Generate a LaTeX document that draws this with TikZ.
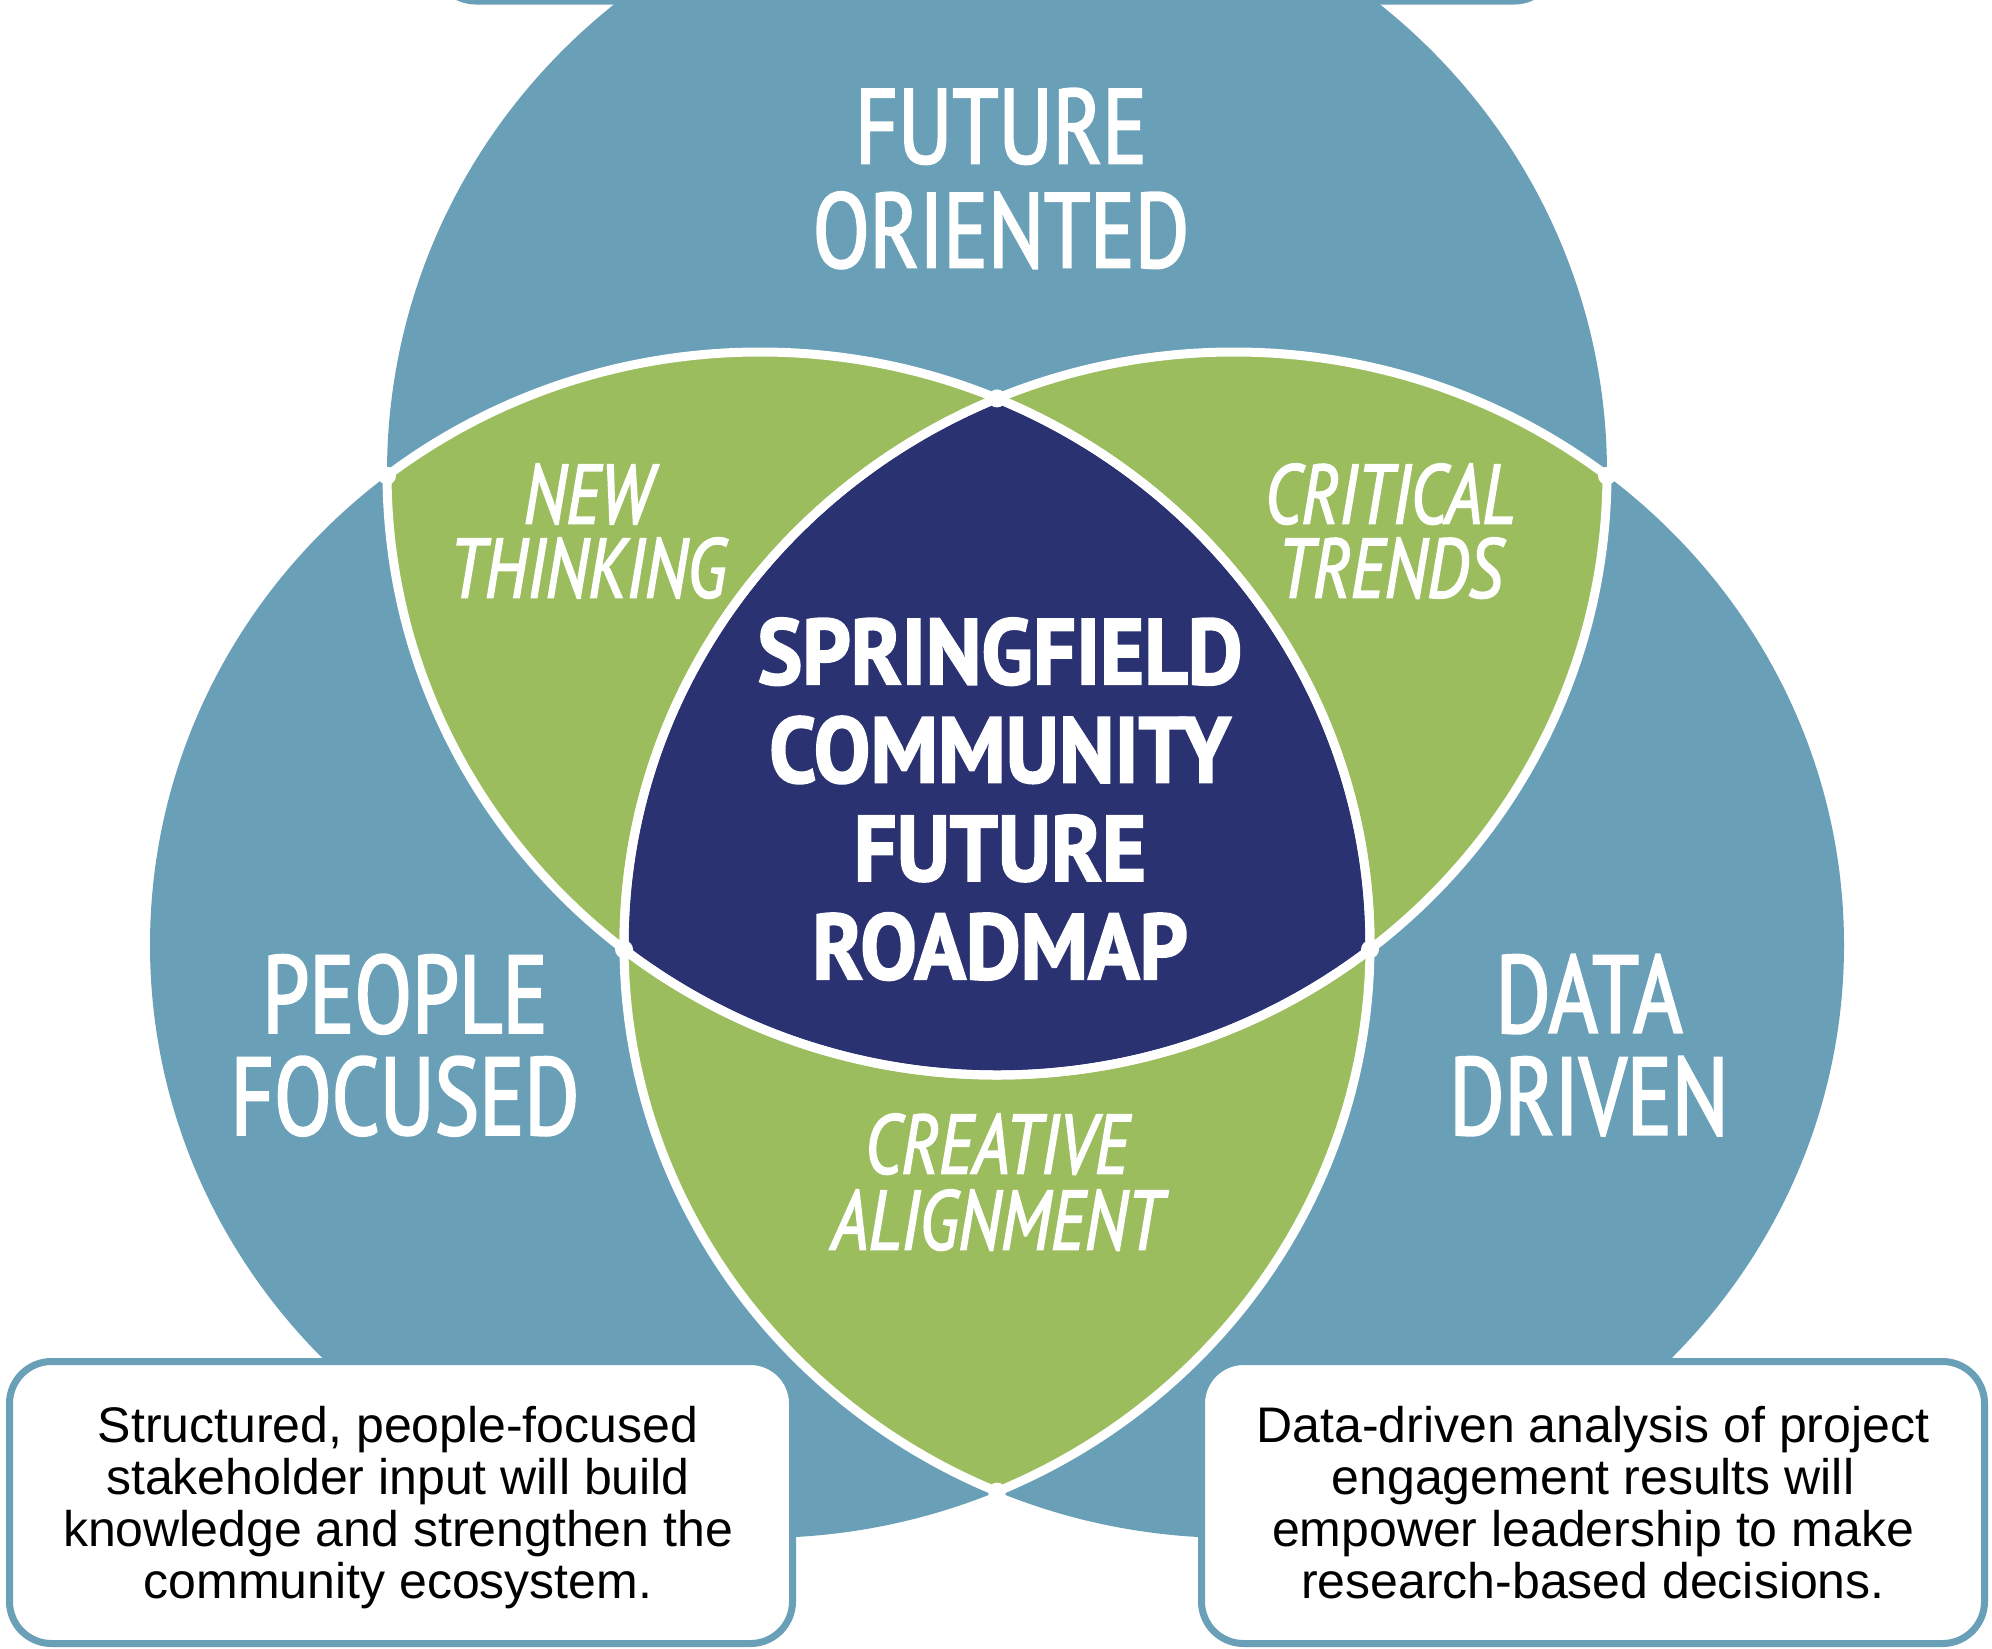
\documentclass[tikz,border=0pt]{standalone}
\usepackage{fontspec}
\usetikzlibrary{intersections}
\setmainfont{Liberation Sans}
\newfontfamily\hfont[FakeStretch=0.785,FakeBold=2]{PT Sans}
\newfontfamily\sfont[FakeStretch=0.765,FakeBold=2]{PT Sans}
\newfontfamily\cfont[FakeStretch=0.91,FakeBold=2]{PT Sans}
\newfontfamily\lfont[FakeStretch=0.79,FakeBold=2]{PT Sans}
\setlength{\lineskiplimit}{-200pt}
\definecolor{vblue}{RGB}{105,160,183}
\definecolor{vgreen}{RGB}{155,189,94}
\definecolor{vnavy}{RGB}{42,50,114}
\tikzset{
  wline/.style={draw=white, line width=9pt},
  bighead/.style={text=white, inner sep=0pt, align=center, font=\hfont\fontsize{106}{104}\selectfont},
  sidehead/.style={text=white, inner sep=0pt, align=center, font=\sfont\fontsize{110}{102}\selectfont},
  lenshead/.style={text=white, inner sep=0pt, align=center, font=\lfont\itshape\fontsize{84}{74}\selectfont},
  lenshead2/.style={lenshead, font=\lfont\itshape\fontsize{84}{76}\selectfont},
  corehead/.style={text=white, inner sep=0pt, align=center, font=\cfont\bfseries\fontsize{93}{98.3}\selectfont},
  infobox/.style={draw=vblue, fill=white, line width=7pt, rounded corners=42pt, inner sep=0pt,
    minimum width=783pt, minimum height=282pt},
  infotext/.style={inner sep=0pt, align=center, text=black, font=\fontsize{50}{52}\selectfont},
}
\begin{document}
\lineskiplimit=-200pt
\begin{tikzpicture}[x=1pt,y=-1pt]
\useasboundingbox (0,0) rectangle (1992,1649);
% circles
\fill[vblue, name path=ct] (997,473) ellipse [x radius=610pt, y radius=602pt];
\fill[vblue, name path=cl] (760,945) ellipse [x radius=610pt, y radius=593pt];
\fill[vblue, name path=cr] (1234,945) ellipse [x radius=610pt, y radius=593pt];
% pairwise lenses
\begin{scope}
  \clip (997,473) ellipse [x radius=610pt, y radius=602pt];
  \fill[vgreen] (760,945) ellipse [x radius=610pt, y radius=593pt];
  \fill[vgreen] (1234,945) ellipse [x radius=610pt, y radius=593pt];
\end{scope}
\begin{scope}
  \clip (760,945) ellipse [x radius=610pt, y radius=593pt];
  \fill[vgreen] (1234,945) ellipse [x radius=610pt, y radius=593pt];
\end{scope}
% centre
\begin{scope}
  \clip (997,473) ellipse [x radius=610pt, y radius=602pt];
  \clip (760,945) ellipse [x radius=610pt, y radius=593pt];
  \fill[vnavy] (1234,945) ellipse [x radius=610pt, y radius=593pt];
\end{scope}
% white separating lines
\begin{scope}
  \clip (760,945) ellipse [x radius=610pt, y radius=593pt];
  \path[wline] (997,473) ellipse [x radius=610pt, y radius=602pt];
  \path[wline] (1234,945) ellipse [x radius=610pt, y radius=593pt];
\end{scope}
\begin{scope}
  \clip (1234,945) ellipse [x radius=610pt, y radius=593pt];
  \path[wline] (997,473) ellipse [x radius=610pt, y radius=602pt];
  \path[wline] (760,945) ellipse [x radius=610pt, y radius=593pt];
\end{scope}
\begin{scope}
  \clip (997,473) ellipse [x radius=610pt, y radius=602pt];
  \path[wline] (760,945) ellipse [x radius=610pt, y radius=593pt];
  \path[wline] (1234,945) ellipse [x radius=610pt, y radius=593pt];
\end{scope}
% rounded junctions
\fill[white, name intersections={of=ct and cl, name=jtl}] (jtl-1) circle[radius=9pt] (jtl-2) circle[radius=9pt];
\fill[white, name intersections={of=ct and cr, name=jtr}] (jtr-1) circle[radius=9pt] (jtr-2) circle[radius=9pt];
\fill[white, name intersections={of=cl and cr, name=jlr}] (jlr-1) circle[radius=9pt] (jlr-2) circle[radius=9pt];
% boxes
\node[infobox, minimum width=1119pt, minimum height=400pt, rounded corners=40pt] (topbox) at (995,-199) {};
\node[infobox] (leftbox) at (401,1502.5) {};
\node[infobox] (rightbox) at (1593,1502.5) {};
\node[infotext] (lefttext) at (398,1509.6) {\strut Structured, people-focused\\stakeholder input will build\\knowledge and strengthen the\\community ecosystem.\strut};
\node[infotext] (righttext) at (1593,1509.6) {\strut Data-driven analysis of project\\engagement results will\\empower leadership to make\\research-based decisions.\strut};
% headings
\node[bighead] (fo) at (1001,193.5) {\strut FUTURE\\ORIENTED\strut};
\node[sidehead] (pf) at (405,1059.8) {\strut PEOPLE\\FOCUSED\strut};
\node[sidehead] (dd) at (1589,1059.8) {\strut DATA\\DRIVEN\strut};
\node[lenshead] (nt) at (588,541.7) {\strut NEW\\THINKING\strut};
\node[lenshead] (ct) at (1390,541.7) {\strut CRITICAL\\TRENDS\strut};
\node[lenshead2] (ca) at (997,1193) {\strut CREATIVE\\ALIGNMENT\strut};
\node[corehead] (sc) at (1000,812) {\strut SPRINGFIELD\\COMMUNITY\\FUTURE\\ROADMAP\strut};
\end{tikzpicture}
\end{document}
